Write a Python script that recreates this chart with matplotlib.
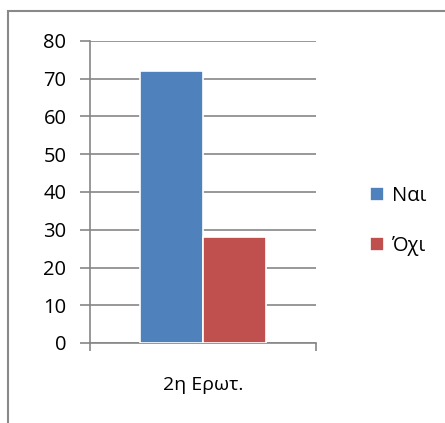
import matplotlib
matplotlib.use("Agg")
import matplotlib.pyplot as plt
from matplotlib.patches import Rectangle

categories = ["2η Ερωτ."]
series_names = ["Ναι", "Όχι"]
series_values = [[72], [28]]
colors = ["#4f81bd", "#c0504d"]
yticks = [0, 10, 20, 30, 40, 50, 60, 70, 80]

plt.rcParams["font.family"] = ["Open Sans", "DejaVu Sans"]

W, H = 445, 423
fig = plt.figure(figsize=(W / 100, H / 100), dpi=100)
fig.patch.set_facecolor("white")
# outer chart frame (left/top visible, clipped at right/bottom)
fig.add_artist(Rectangle((8 / W, -0.05), 1.1, 1.05 - 11 / H, transform=fig.transFigure,
                         fill=False, edgecolor="#898989", lw=1.5))

ax = fig.add_axes([90 / W, 1 - 343 / H, 226 / W, 302 / H])
bw = 0.28
for i, (name, vals) in enumerate(zip(series_names, series_values)):
    xs = [k + (i - 0.5) * bw for k in range(len(categories))]
    ax.bar(xs, vals, width=bw, color=colors[i], edgecolor="white", lw=1.2, label=name, zorder=3)

ax.set_xlim(-0.5, 0.5)
ax.set_ylim(0, 80)
ax.set_yticks(yticks)
ax.yaxis.grid(True, color="#868686", lw=1.2, zorder=0)
ax.set_axisbelow(True)
for s in ["top", "right"]:
    ax.spines[s].set_visible(False)
for s in ["left", "bottom"]:
    ax.spines[s].set_color("#868686")
    ax.spines[s].set_linewidth(1.2)
ax.tick_params(axis="y", length=7, width=1.2, color="#868686", labelsize=14.5, pad=10)
ax.set_xticks([-0.5, 0.5])
ax.set_xticklabels(["", ""])
ax.tick_params(axis="x", length=6, width=1.2, color="#868686")
ax.text(0, -0.14, categories[0], transform=ax.get_xaxis_transform(), ha="center", va="center", fontsize=14)

ax.legend(loc="center left", bbox_to_anchor=(352 / W, 1 - 221 / H), bbox_transform=fig.transFigure,
          frameon=False, fontsize=14.5, handlelength=0.7, handleheight=0.7, handletextpad=0.4,
          labelspacing=1.5)

fig.savefig("out.png", dpi=100)
